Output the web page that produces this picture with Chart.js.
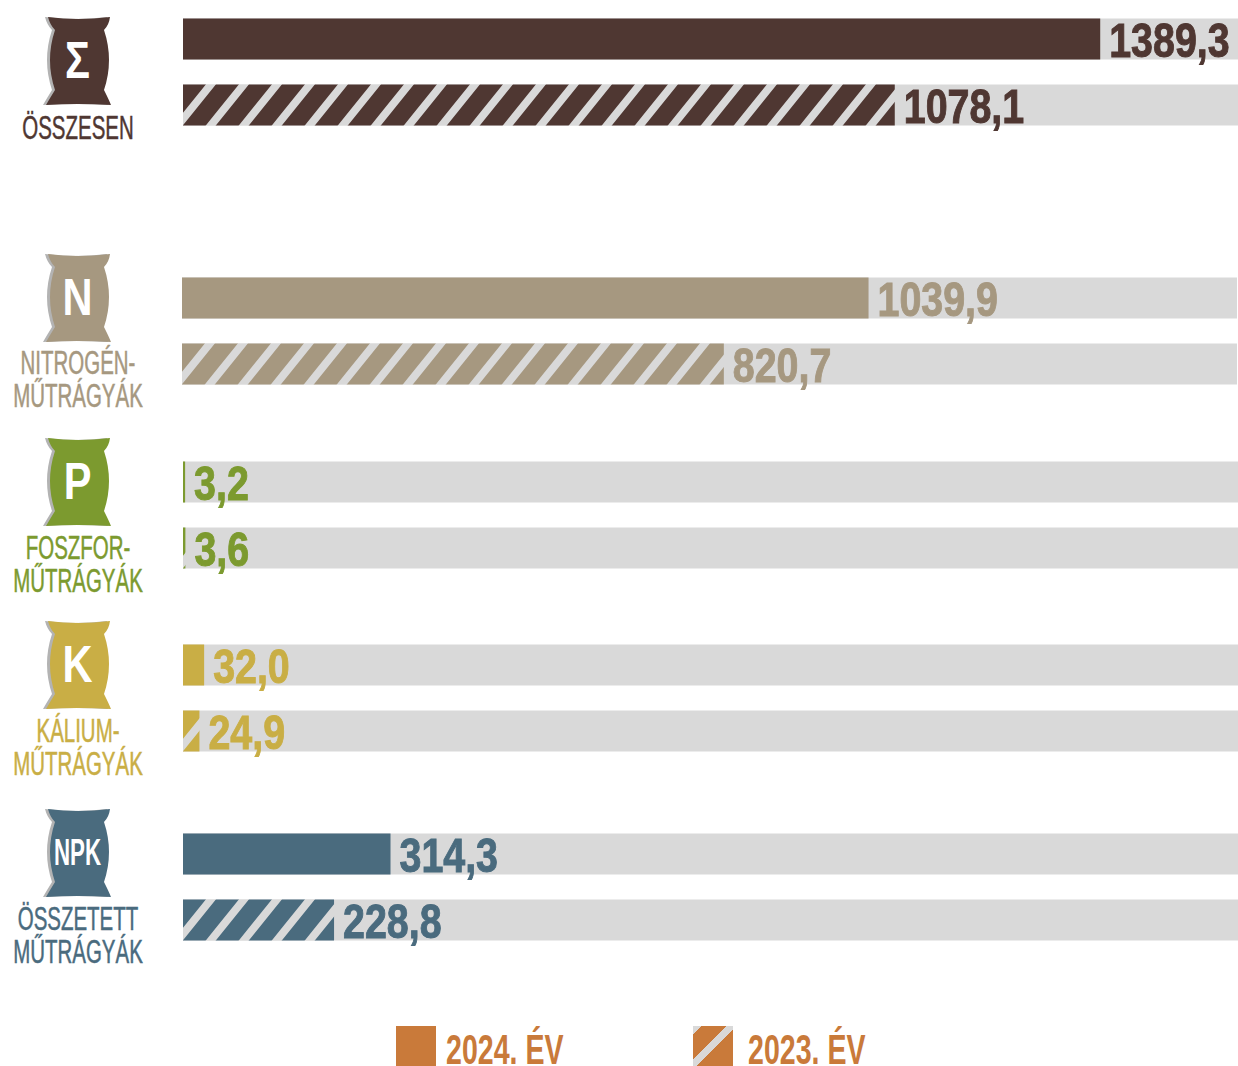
<!DOCTYPE html>
<html lang="hu">
<head>
<meta charset="utf-8">
<title>Műtrágyák</title>
<script src="https://cdn.jsdelivr.net/npm/chart.js@4"></script>
<style>
  html, body { margin: 0; background: #fff; overflow: hidden; }
  #page { position: relative; width: 1238px; height: 1066px; overflow: hidden; font-family: "Liberation Sans", sans-serif; }
  .panel { position: absolute; width: 1055px; height: 132px; }
  .sack { position: absolute; left: 42px; width: 72px; height: 90px; }
  .name { position: absolute; left: 78px; transform: translateX(-50%) scaleX(0.62); text-align: center; font-size: 33px; line-height: 33px; white-space: nowrap; -webkit-text-stroke: 0.5px; }
  .swatch { position: absolute; top: 1026px; width: 40px; height: 40px; }
  .year { position: absolute; top: 1028px; font-size: 42px; font-weight: bold; line-height: 44px; color: #c97a3a; transform: scaleX(0.68); transform-origin: left top; white-space: nowrap; }
</style>
</head>
<body>
<div id="page"></div>
<script>
// Adatok (ezer tonna)
const categories = [['ÖSSZESEN'], ['NITROGÉN-', 'MŰTRÁGYÁK'], ['FOSZFOR-', 'MŰTRÁGYÁK'], ['KÁLIUM-', 'MŰTRÁGYÁK'], ['ÖSSZETETT', 'MŰTRÁGYÁK']];
const sackLetters = ['Σ', 'N', 'P', 'K', 'NPK'];
const values2024 = [1389.3, 1039.9, 3.2, 32.0, 314.3];
const values2023 = [1078.1, 820.7, 3.6, 24.9, 228.8];
const years = ['2024. ÉV', '2023. ÉV'];

const colors = ['#4f3732', '#a69880', '#7c9a2f', '#c9ae45', '#4a6b7e'];
const legendColor = '#c97a3a';
const trackColor = '#d9d9d9';
const axisMax = 1598;

// Elrendezés
const panelLefts = [183, 182, 183, 183, 183];
const panelTops = [6, 265, 449, 632, 821];
const sackTops = [16, 253, 437, 620, 808];
const nameTops = [111, 346, 531, 714, 902];

const page = document.getElementById('page');

// Ferde csíkozás a 2023-as sávokhoz
function hatch(color) {
  const w = 33;
  const h = 41;
  const c = document.createElement('canvas');
  c.width = w;
  c.height = h;
  const g = c.getContext('2d');
  g.fillStyle = color;
  g.fillRect(0, 0, w, h);
  g.strokeStyle = trackColor;
  g.lineWidth = 7.8;
  g.beginPath();
  for (let k = -1; k <= 3; k++) {
    const x = w * k - 8;
    g.moveTo(x + w, -h);
    g.lineTo(x - w * 2, h * 2);
  }
  g.stroke();
  return g.createPattern(c, 'repeat');
}

const valueLabels = {
  id: 'valueLabels',
  afterDatasetsDraw(chart, args, opts) {
    const ctx = chart.ctx;
    ctx.font = 'bold 48px "Liberation Sans", sans-serif';
    ctx.fillStyle = opts.color;
    ctx.strokeStyle = opts.color;
    ctx.lineWidth = 1;
    ctx.textBaseline = 'middle';
    chart.getDatasetMeta(0).data.forEach((bar, i) => {
      const text = chart.data.datasets[0].data[i].toFixed(1).replace('.', ',');
      ctx.save();
      ctx.translate(bar.x + 9, bar.y + 5);
      ctx.scale(0.82, 1);
      ctx.fillText(text, 0, 0);
      ctx.strokeText(text, 0, 0);
      ctx.restore();
    });
  }
};

function addSack(i) {
  const ns = 'http://www.w3.org/2000/svg';
  const svg = document.createElementNS(ns, 'svg');
  svg.setAttribute('class', 'sack');
  svg.setAttribute('viewBox', '0 0 72 90');
  svg.style.top = sackTops[i] + 'px';
  const shape = 'M6 1 Q36 5 68 1 Q67 9 62 14 Q72 44 62 74 Q67 84 69 89 Q36 87 4 89 Q8 82 13 74 Q3 44 13 14 Q8 9 6 1 Z';
  [['#b3b3b3', 'translate(-3 0)'], [colors[i], '']].forEach(([fill, move]) => {
    const p = document.createElementNS(ns, 'path');
    p.setAttribute('d', shape);
    p.setAttribute('fill', fill);
    if (move) p.setAttribute('transform', move);
    svg.appendChild(p);
  });
  const isNpk = sackLetters[i] === 'NPK';
  const t = document.createElementNS(ns, 'text');
  t.textContent = sackLetters[i];
  t.setAttribute('text-anchor', 'middle');
  t.setAttribute('fill', '#fff');
  t.setAttribute('font-weight', 'bold');
  t.setAttribute('font-family', '"Liberation Sans"');
  t.setAttribute('font-size', isNpk ? 36 : 52);
  t.setAttribute('transform', isNpk ? 'translate(35.5 57) scale(0.62 1)' : 'translate(35.5 62) scale(0.8 1)');
  svg.appendChild(t);
  page.appendChild(svg);
}

function addName(i) {
  const d = document.createElement('div');
  d.className = 'name';
  d.style.top = nameTops[i] + 'px';
  d.style.color = colors[i];
  d.innerHTML = categories[i].join('<br>');
  page.appendChild(d);
}

function addPanel(i) {
  const canvas = document.createElement('canvas');
  canvas.className = 'panel';
  canvas.width = 1055;
  canvas.height = 132;
  canvas.style.left = panelLefts[i] + 'px';
  canvas.style.top = panelTops[i] + 'px';
  page.appendChild(canvas);

  new Chart(canvas.getContext('2d'), {
    type: 'bar',
    data: {
      labels: years,
      datasets: [
        {
          data: [values2024[i], values2023[i]],
          backgroundColor: [colors[i], hatch(colors[i])],
          barPercentage: 41 / 66,
          categoryPercentage: 1
        },
        {
          data: [axisMax, axisMax],
          backgroundColor: trackColor,
          barPercentage: 41 / 66,
          categoryPercentage: 1
        }
      ]
    },
    options: {
      indexAxis: 'y',
      responsive: false,
      animation: false,
      devicePixelRatio: 1,
      layout: { padding: 0 },
      datasets: { bar: { grouped: false } },
      scales: {
        x: { display: false, min: 0, max: axisMax },
        y: { display: false }
      },
      plugins: {
        legend: { display: false },
        tooltip: { enabled: false },
        valueLabels: { color: colors[i] }
      }
    },
    plugins: [valueLabels]
  });
}

categories.forEach((c, i) => {
  addSack(i);
  addName(i);
  addPanel(i);
});

// Jelmagyarázat
const swatchLefts = [396, 693];
const yearLefts = [446, 748];
years.forEach((label, i) => {
  const s = document.createElement('div');
  s.className = 'swatch';
  s.style.left = swatchLefts[i] + 'px';
  s.style.background = i === 0 ? legendColor :
    'linear-gradient(135deg, ' + trackColor + ' 0 6px, ' + legendColor + ' 6px 24px, ' + trackColor + ' 24px 31px, ' + legendColor + ' 31px)';
  page.appendChild(s);
  const t = document.createElement('div');
  t.className = 'year';
  t.style.left = yearLefts[i] + 'px';
  t.textContent = label;
  page.appendChild(t);
});
</script>
</body>
</html>
